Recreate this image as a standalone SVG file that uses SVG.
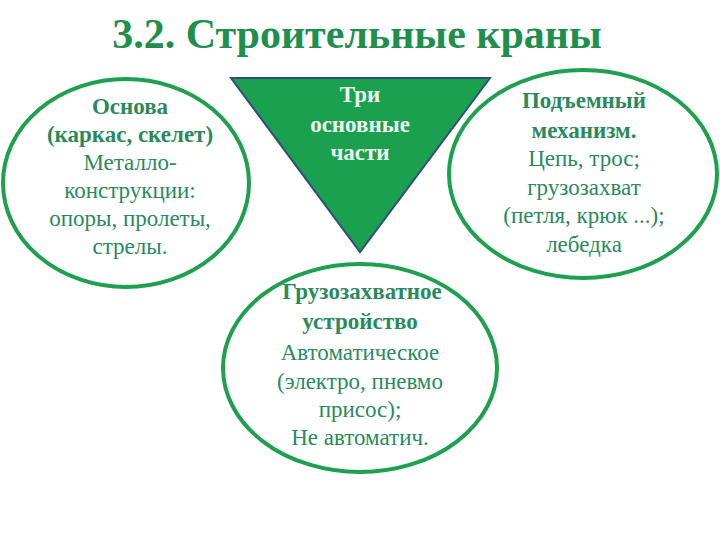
<svg xmlns="http://www.w3.org/2000/svg" width="720" height="540" viewBox="0 0 720 540">
<rect width="720" height="540" fill="#ffffff"/>
<text x="357" y="48" font-family="Liberation Serif, Times New Roman, serif" font-weight="bold" font-size="42" fill="#1f8f4e" text-anchor="middle">3.2. Строительные краны</text>
<g id="left" font-family="Liberation Serif, Times New Roman, serif" font-size="23" fill="#2a8a5c" text-anchor="middle">
<ellipse cx="126" cy="183" rx="123" ry="104" fill="#ffffff" stroke="#1ea04e" stroke-width="4"/>
<text x="130" y="114" font-weight="bold">Основа</text>
<text x="130" y="142" font-weight="bold">(каркас, скелет)</text>
<text x="130" y="170">Металло-</text>
<text x="130" y="198">конструкции:</text>
<text x="130" y="226">опоры, пролеты,</text>
<text x="130" y="254">стрелы.</text>
</g>
<g id="right" font-family="Liberation Serif, Times New Roman, serif" font-size="23" fill="#2a8a5c" text-anchor="middle">
<ellipse cx="583" cy="174" rx="134" ry="104" fill="#ffffff" stroke="#1ea04e" stroke-width="4"/>
<text x="584" y="108" font-weight="bold">Подъемный</text>
<text x="584" y="138" font-weight="bold">механизм.</text>
<text x="584" y="166" >Цепь, трос;</text>
<text x="584" y="195">грузозахват</text>
<text x="584" y="223">(петля, крюк ...);</text>
<text x="584" y="252">лебедка</text>
</g>
<g id="bottom" font-family="Liberation Serif, Times New Roman, serif" font-size="23" fill="#2a8a5c" text-anchor="middle">
<ellipse cx="360" cy="368" rx="137" ry="104" fill="#ffffff" stroke="#1ea04e" stroke-width="4"/>
<text x="362" y="299" font-weight="bold">Грузозахватное</text>
<text x="360" y="329" font-weight="bold">устройство</text>
<text x="360" y="360">Автоматическое</text>
<text x="360" y="389">(электро, пневмо</text>
<text x="360" y="417">присос);</text>
<text x="360" y="445">Не автоматич.</text>
</g>
<g id="center" font-family="Liberation Serif, Times New Roman, serif" font-size="23" font-weight="bold" fill="#eefaf0" text-anchor="middle">
<polygon points="231,78 490,78 360,252" fill="#1aa04e" stroke="#2f4f7a" stroke-width="2"/>
<text x="360" y="102">Три</text>
<text x="360" y="132">основные</text>
<text x="360" y="160">части</text>
</g>
<g id="connectors"></g>
</svg>
